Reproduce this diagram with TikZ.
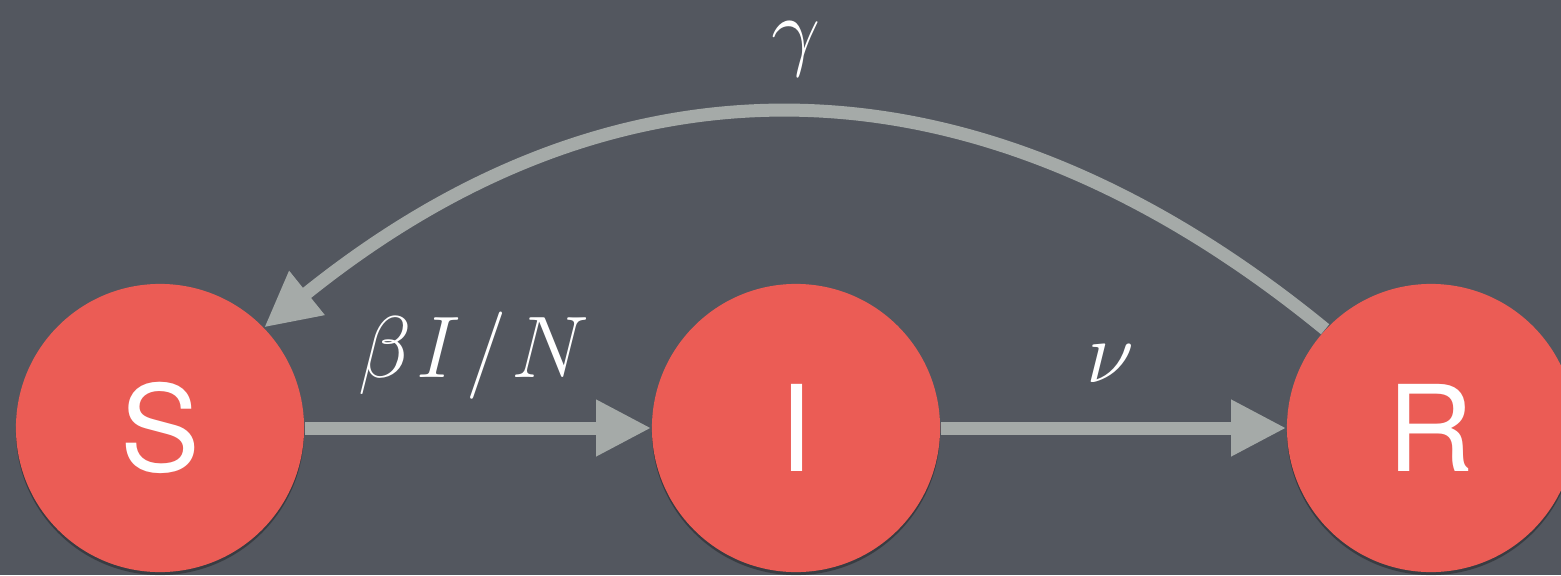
\documentclass[tikz,border=0pt]{standalone}
\usepackage{fontspec}
\setsansfont{TeX Gyre Heros}
\usetikzlibrary{arrows.meta,shadows,backgrounds}
\definecolor{bgcol}{HTML}{53575F}
\definecolor{nodered}{HTML}{EB5C55}
\definecolor{arrowgrey}{HTML}{A5AAA8}
\tikzset{
  state/.style={circle, fill=nodered, minimum size=2.88cm, inner sep=0pt,
    text=white, font=\sffamily\fontsize{34}{40}\selectfont,
    drop shadow={shadow xshift=0pt, shadow yshift=-0.03cm, opacity=0.3, fill=black}},
  flow/.style={draw=arrowgrey, line width=0.13cm,
    -{Triangle[length=0.55cm,width=0.53cm]}},
  rate/.style={text=white, font=\fontsize{28}{34}\selectfont, anchor=base, inner sep=0pt}
}
\begin{document}
\begin{tikzpicture}[x=0.01cm,y=0.01cm]
  \fill[bgcol] (0,0) rectangle (1561,575);
  \useasboundingbox (0,0) rectangle (1561,575);
  \node[state] (S) at (160,147) {S};
  \node[state] (I) at (796,147) {I};
  \node[state] (R) at (1431,147) {R};
  \draw[flow] (S.east) -- (I.west);
  \draw[flow] (I.east) -- (R.west);
  \draw[flow] (R.137) .. controls (975,532) and (617,532) .. (S.44);
  \node[rate, font=\fontsize{29.5}{35}\selectfont] (lb) at (474,198) {$\beta\mkern1mu I\mkern1mu/\mkern1mu N$};
  \node[rate] (ln) at (1110,193) {$\nu$};
  \node[rate] (lg) at (796,516) {$\gamma$};
\end{tikzpicture}
\end{document}
